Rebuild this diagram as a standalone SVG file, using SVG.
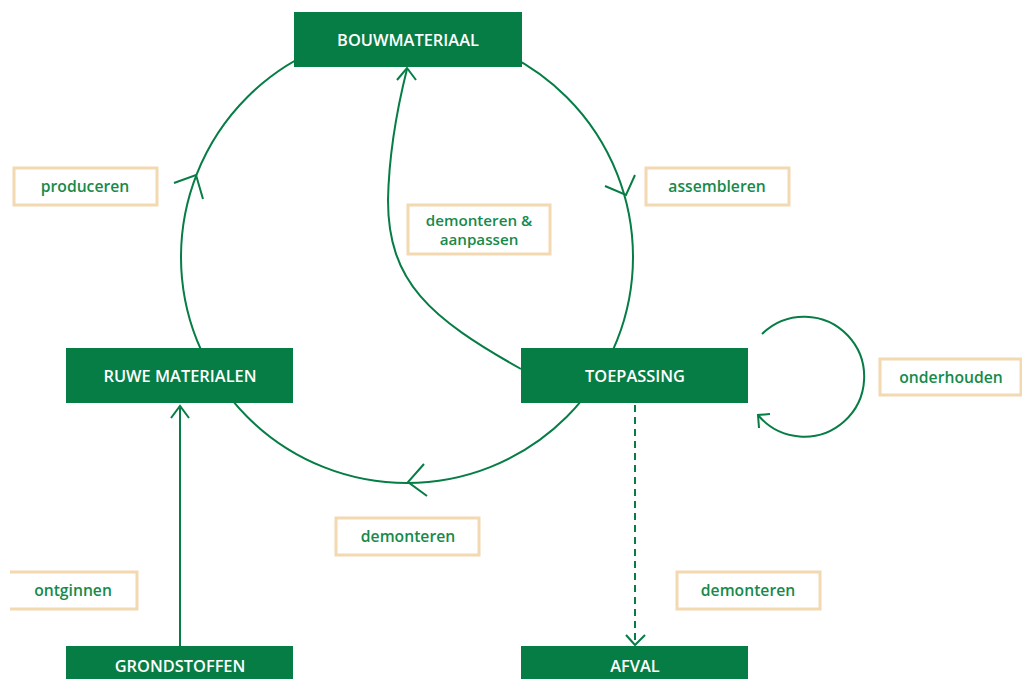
<svg xmlns="http://www.w3.org/2000/svg" width="1022" height="679" viewBox="0 0 1022 679">
  <style>
    .node rect { fill: #067D45; }
    .node text { fill: #FFFFFF; font-family: "Open Sans", "Liberation Sans", sans-serif; font-weight: 600; font-size: 16.4px; text-anchor: middle; }
    .line { fill: none; stroke: #067D45; stroke-width: 2; }
    .dash { stroke-dasharray: 7 5; }
    .head { fill: none; stroke: #067D45; stroke-width: 2; stroke-linejoin: miter; }
    .label rect, .label path { fill: #FFFFFF; stroke: #F2D9B2; stroke-width: 3; }
    .label text { fill: #168A4B; font-family: "Open Sans", "Liberation Sans", sans-serif; font-weight: 600; font-size: 15.7px; text-anchor: middle; }
    .label text.two { font-size: 15.2px; }
  </style>

  <rect width="1022" height="679" fill="#FFFFFF"/>

  <!-- connectors -->
  <g id="connectors">
    <!-- main cycle -->
    <circle class="line" cx="407" cy="257" r="226"/>
    <path class="head" d="M174,183 L196,175 L203,199"/>
    <path class="head" d="M605,186 L626,195 L635,175"/>
    <path class="head" d="M424,464 L408,482 L427,496"/>
    <!-- toepassing back to bouwmateriaal -->
    <path class="line" d="M521,369 C430,318 388,282 388,200 C389,150 398,105 407,69"/>
    <path class="head" d="M397,80 L407,68 L416,80"/>
    <!-- onderhouden self-loop -->
    <path class="line" d="M762,334 A60,60 0 1 1 758,415"/>
    <path class="head" d="M770,414 L758,415 L759,428"/>
    <!-- ontginnen -->
    <path class="line" d="M180,646 V408"/>
    <path class="head" d="M171,418 L180,406 L189,418"/>
    <!-- to afval -->
    <path class="line dash" d="M635,405 V644"/>
    <path class="head" d="M626,635 L635,645 L645,635"/>
  </g>

  <!-- nodes -->
  <g id="bouwmateriaal" class="node">
    <rect x="294" y="12" width="228" height="55"/>
    <text x="408" y="46">BOUWMATERIAAL</text>
  </g>
  <g id="ruwe-materialen" class="node">
    <rect x="66" y="348" width="227" height="55"/>
    <text x="180" y="382">RUWE MATERIALEN</text>
  </g>
  <g id="toepassing" class="node">
    <rect x="521" y="348" width="227" height="55"/>
    <text x="635" y="382">TOEPASSING</text>
  </g>
  <g id="grondstoffen" class="node">
    <rect x="66" y="646" width="227" height="40"/>
    <text x="180" y="672">GRONDSTOFFEN</text>
  </g>
  <g id="afval" class="node">
    <rect x="521" y="646" width="227" height="40"/>
    <text x="635" y="672">AFVAL</text>
  </g>

  <!-- edge labels -->
  <g id="label-produceren" class="label">
    <rect x="14" y="168" width="143" height="37"/>
    <text x="85" y="192">produceren</text>
  </g>
  <g id="label-assembleren" class="label">
    <rect x="646" y="168" width="143" height="37"/>
    <text x="717" y="192">assembleren</text>
  </g>
  <g id="label-demonteren-aanpassen" class="label">
    <rect x="408" y="205" width="142" height="49"/>
    <text class="two" x="479" y="226">demonteren &amp;</text>
    <text class="two" x="479" y="245">aanpassen</text>
  </g>
  <g id="label-onderhouden" class="label">
    <rect x="880" y="359" width="141" height="36"/>
    <text x="951" y="383">onderhouden</text>
  </g>
  <g id="label-demonteren" class="label">
    <rect x="336" y="518" width="143" height="37"/>
    <text x="408" y="542">demonteren</text>
  </g>
  <g id="label-ontginnen" class="label">
    <path d="M10,572 H137 V609 H10"/>
    <text x="73" y="596">ontginnen</text>
  </g>
  <g id="label-demonteren-afval" class="label">
    <rect x="677" y="572" width="143" height="37"/>
    <text x="748" y="596">demonteren</text>
  </g>
</svg>
